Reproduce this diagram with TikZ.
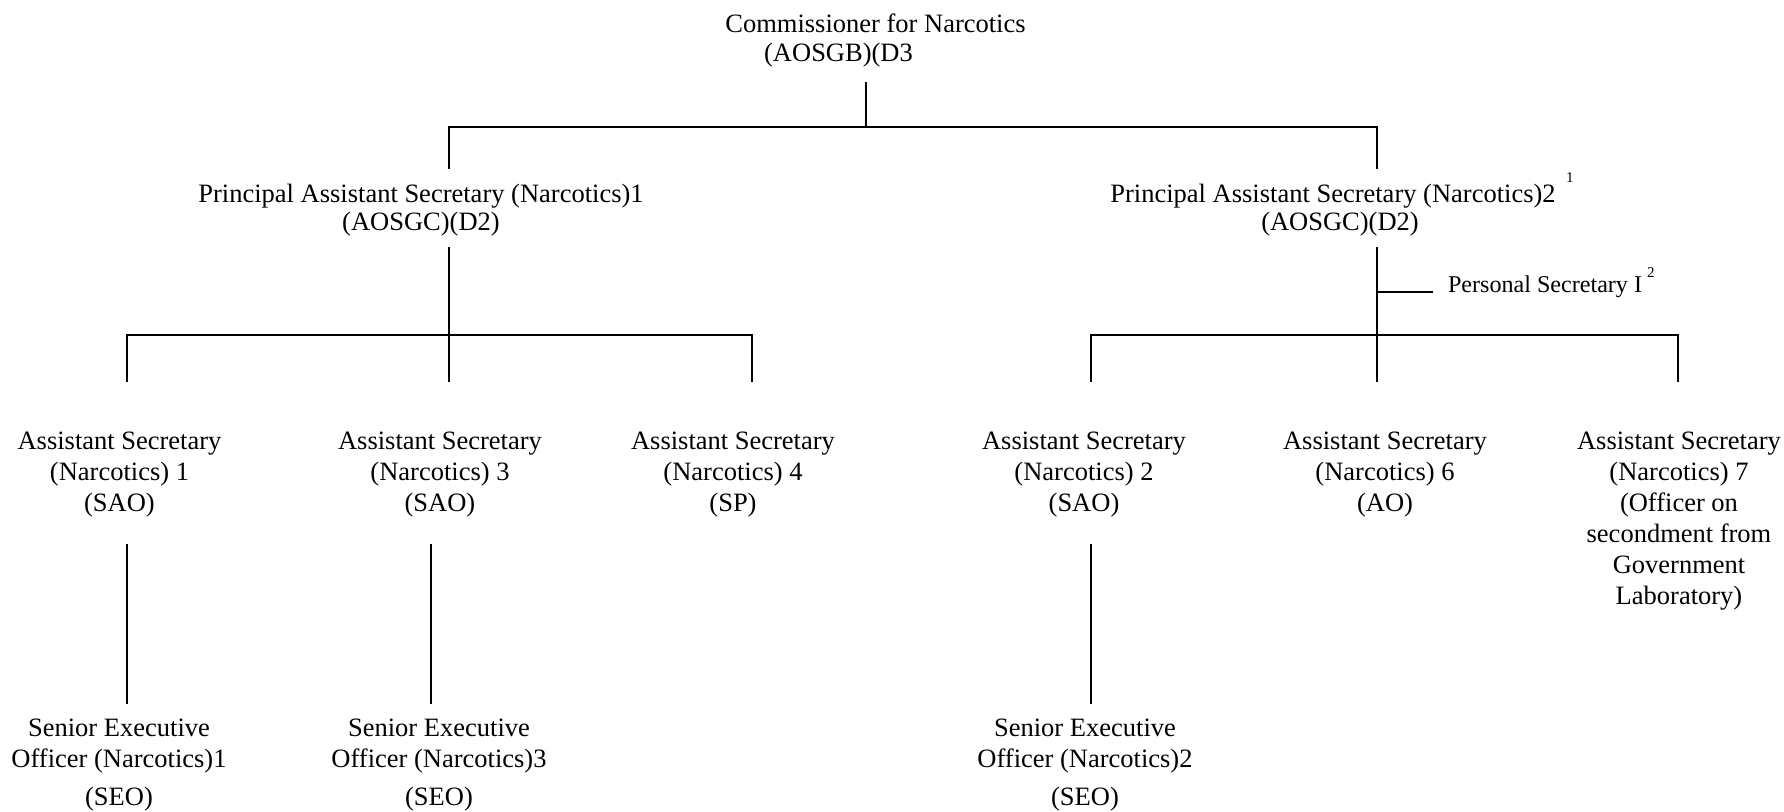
\documentclass[tikz,border=0pt]{standalone}
\usepackage{fontspec}
\setmainfont{Liberation Serif}
\begin{document}
\begin{tikzpicture}[x=0.5pt,y=-0.5pt,
  lbl/.style={inner sep=0pt, outer sep=0pt, align=center, anchor=base, font=\fontsize{13.25}{15.5}\selectfont},
  pslbl/.style={inner sep=0pt, outer sep=0pt, anchor=base west, font=\fontsize{12.05}{14}\selectfont},
  supnum/.style={inner sep=0pt, outer sep=0pt, anchor=base west, font=\fontsize{7.5}{8}\selectfont},
  ln/.style={line width=1pt}]
\useasboundingbox (0,0) rectangle (1784,811);

% text nodes (anchored at the baseline of their last line)
\node[lbl] (comm) at (875.5,61) {Commissioner for Narcotics\\[-1pt]\hspace*{-37pt}(AOSGB)(D3};
\node[lbl] (pas1) at (421,230) {Principal Assistant Secretary (Narcotics)1\\[-1.5pt](AOSGC)(D2)};
\node[lbl] (pas2) at (1333,230) {Principal Assistant Secretary (Narcotics)2\\[-1.5pt]\hspace*{7pt}(AOSGC)(D2)};
\node[supnum] (fn1) at (1566,182) {1};
\node[pslbl] (ps) at (1448,292) {Personal Secretary I};
\node[supnum] (fn2) at (1647,277) {2};

\node[lbl] (as1) at (119.5,511) {Assistant Secretary\\(Narcotics) 1\\(SAO)};
\node[lbl] (as3) at (440,511) {Assistant Secretary\\(Narcotics) 3\\(SAO)};
\node[lbl] (as4) at (733,511) {Assistant Secretary\\(Narcotics) 4\\(SP)};
\node[lbl] (as2) at (1084,511) {Assistant Secretary\\(Narcotics) 2\\(SAO)};
\node[lbl] (as6) at (1385,511) {Assistant Secretary\\(Narcotics) 6\\(AO)};
\node[lbl] (as7) at (1679,604) {Assistant Secretary\\(Narcotics) 7\\(Officer on\\secondment from\\Government\\Laboratory)};

\node[lbl] (seo1) at (119,805) {Senior Executive\\Officer (Narcotics)1\\[3.5pt](SEO)};
\node[lbl] (seo3) at (439,805) {Senior Executive\\Officer (Narcotics)3\\[3.5pt](SEO)};
\node[lbl] (seo2) at (1085,805) {Senior Executive\\Officer (Narcotics)2\\[3.5pt](SEO)};

% junction coordinates
\coordinate (c0) at (866,82);
\coordinate (c1) at (866,127);
\coordinate (tl) at (449,127);
\coordinate (tr) at (1377,127);
\coordinate (p1t) at (449,169);
\coordinate (p2t) at (1377,169);

\coordinate (p1b) at (449,247);
\coordinate (p1d) at (449,382);
\coordinate (l1) at (127,335);
\coordinate (l3) at (752,335);
\coordinate (l1d) at (127,382);
\coordinate (l3d) at (752,382);

\coordinate (p2b) at (1377,247);
\coordinate (p2d) at (1377,382);
\coordinate (psj) at (1377,292);
\coordinate (pse) at (1433,292);
\coordinate (r1) at (1091,335);
\coordinate (r3) at (1678,335);
\coordinate (r1d) at (1091,382);
\coordinate (r3d) at (1678,382);

\coordinate (a1t) at (127,544);
\coordinate (a1b) at (127,704);
\coordinate (a3t) at (431,544);
\coordinate (a3b) at (431,704);
\coordinate (a2t) at (1091,544);
\coordinate (a2b) at (1091,704);

% connectors
\draw[ln] (c0) -- (c1);
\draw[ln] (p1t) -- (tl) -- (tr) -- (p2t);
\draw[ln] (p1b) -- (p1d);
\draw[ln] (l1d) -- (l1) -- (l3) -- (l3d);
\draw[ln] (p2b) -- (p2d);
\draw[ln] (psj) -- (pse);
\draw[ln] (r1d) -- (r1) -- (r3) -- (r3d);
\draw[ln] (a1t) -- (a1b);
\draw[ln] (a3t) -- (a3b);
\draw[ln] (a2t) -- (a2b);
\end{tikzpicture}
\end{document}
